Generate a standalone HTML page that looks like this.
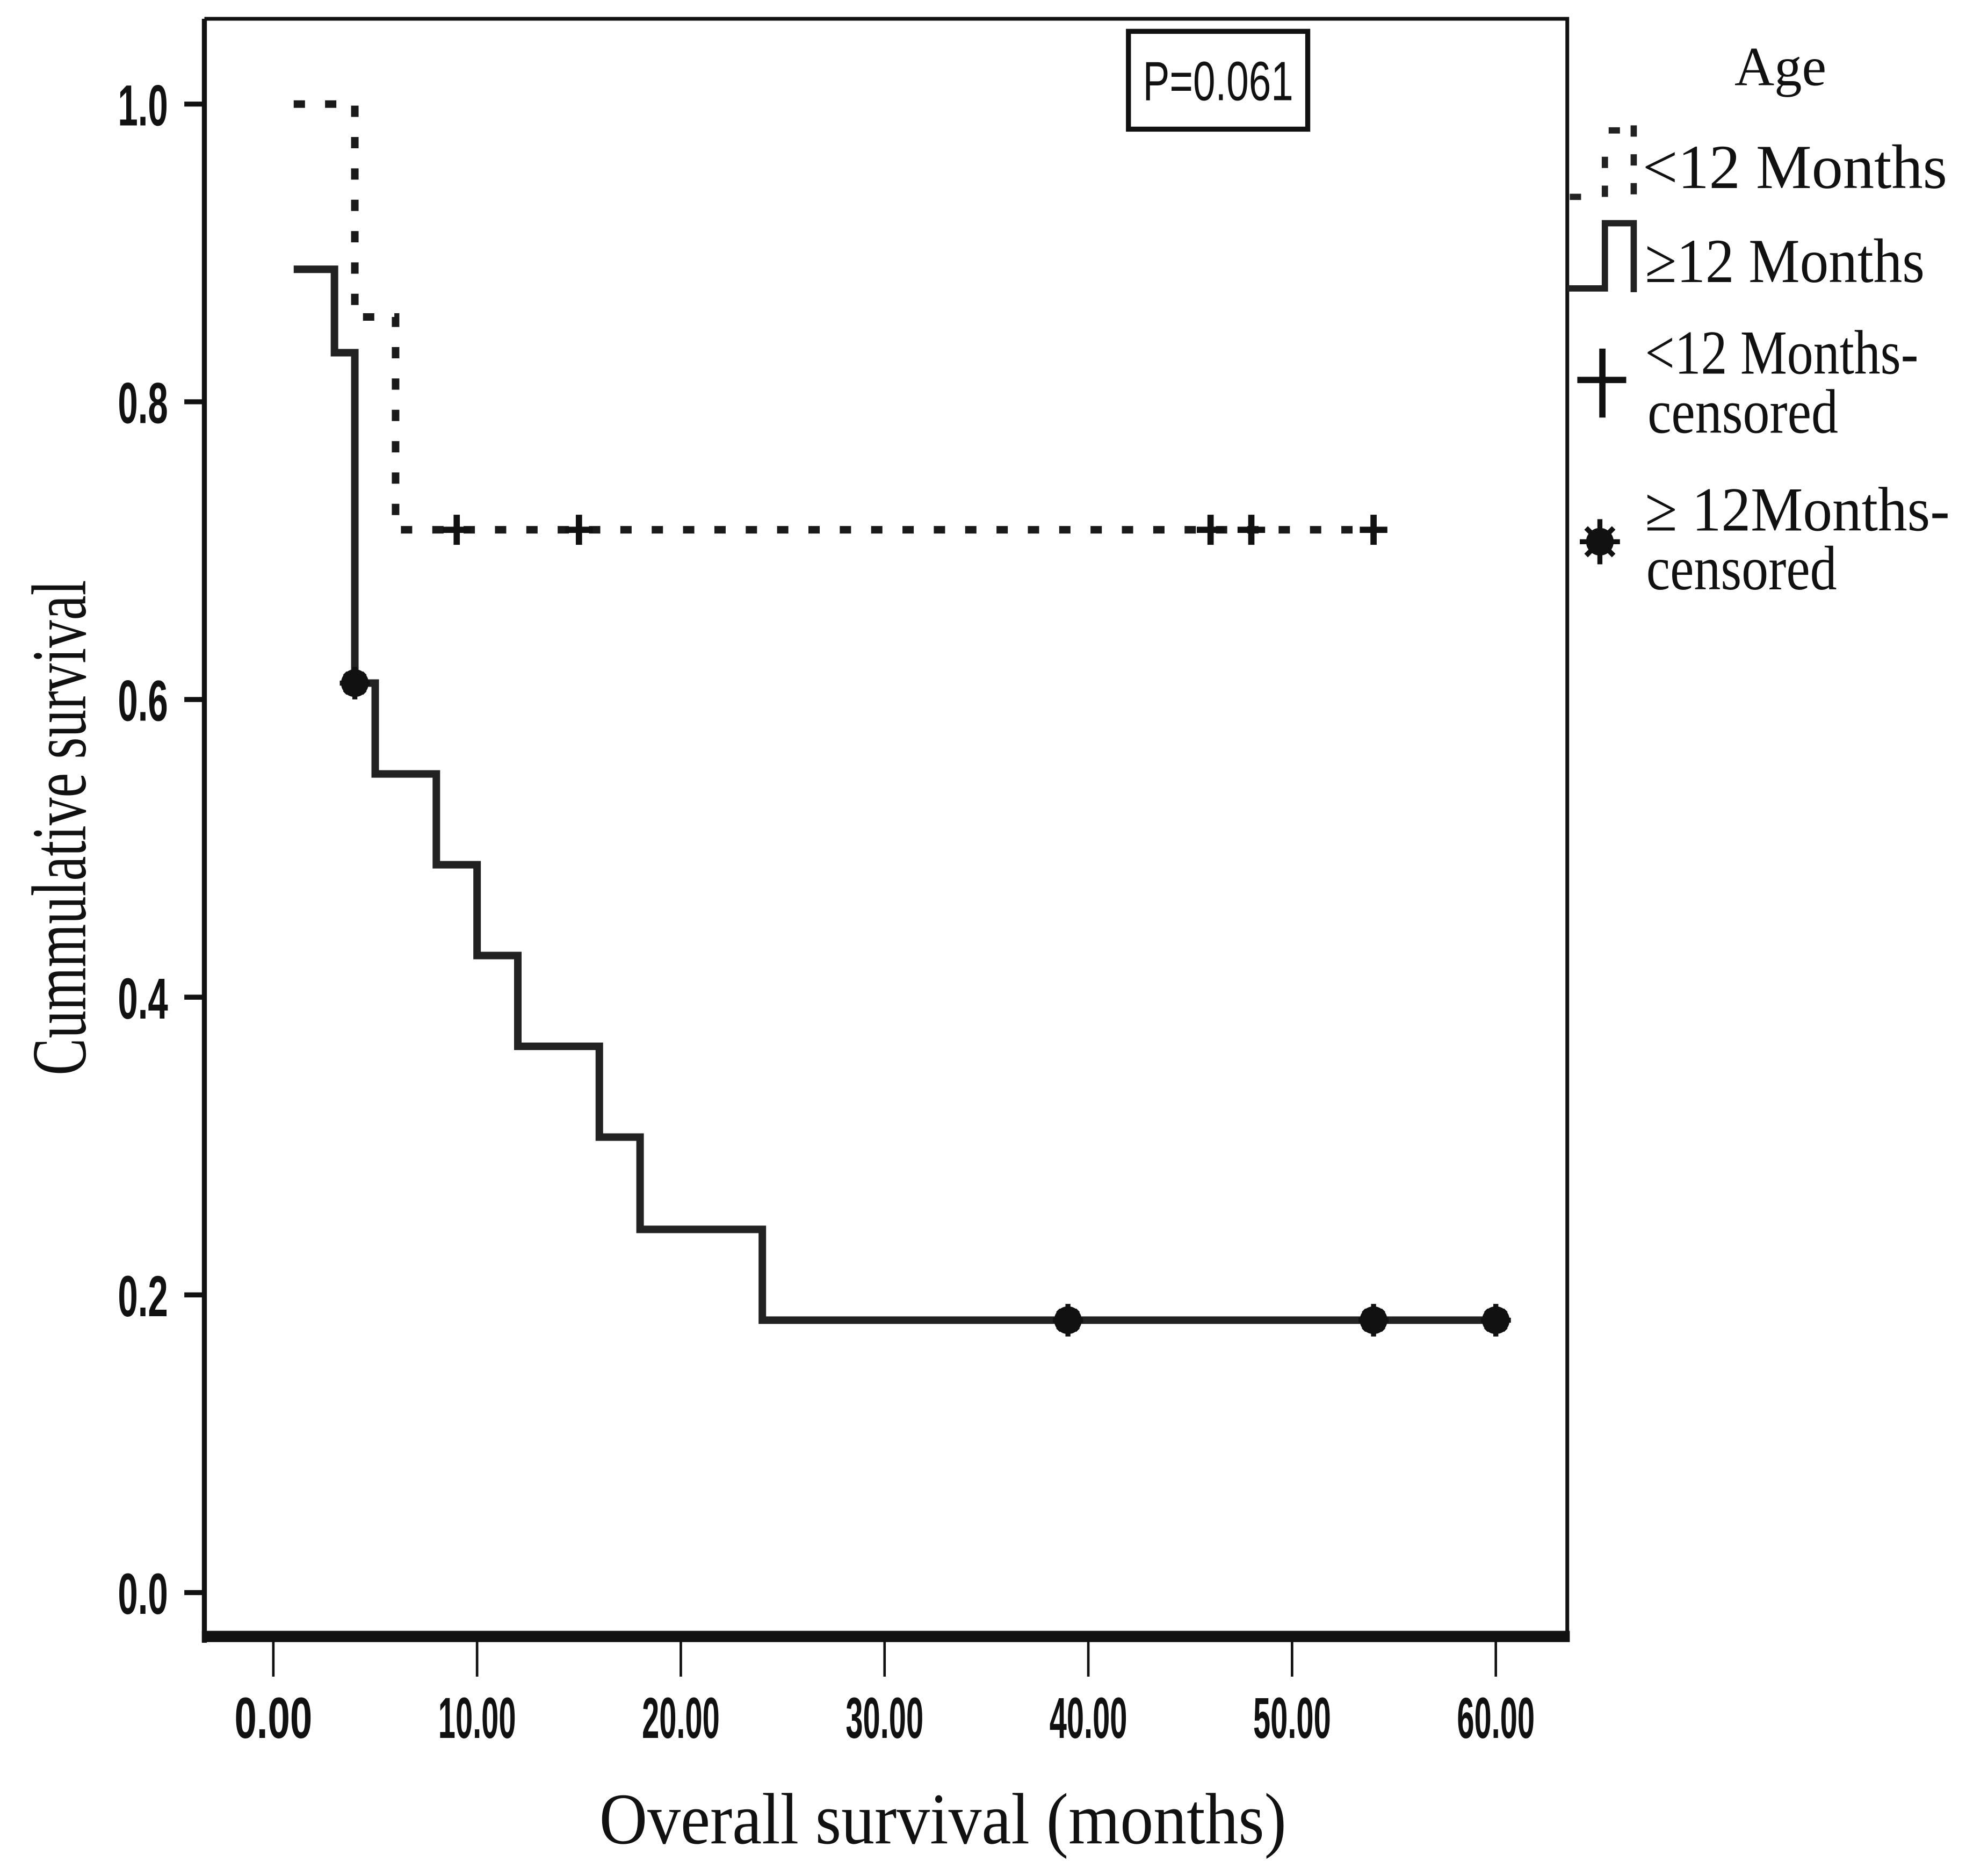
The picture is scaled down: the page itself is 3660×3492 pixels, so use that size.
<!DOCTYPE html>
<html><head><meta charset="utf-8"><style>
html,body{margin:0;padding:0;background:#fff;}
svg{display:block;}
</style></head><body>
<svg width="3660" height="3492" viewBox="0 0 1568 1496" preserveAspectRatio="none" xmlns="http://www.w3.org/2000/svg">
<rect width="1568" height="1496" fill="#fff"/>
<g id="axes"></g>
<g id="series"></g>
<rect x="900" y="25" width="143" height="78" fill="none" stroke="#111" stroke-width="4"/>
<text x="971.5" y="80" text-anchor="middle" font-family="Liberation Sans, sans-serif" font-size="44" textLength="120" lengthAdjust="spacingAndGlyphs" fill="#111">P=0.061</text>
<text transform="translate(68,660) rotate(-90)" text-anchor="middle" font-family="Liberation Serif, serif" font-size="62" textLength="395" lengthAdjust="spacingAndGlyphs" fill="#111">Cummulative survival</text>
<text x="752" y="1470" text-anchor="middle" font-family="Liberation Serif, serif" font-size="58" textLength="548" lengthAdjust="spacingAndGlyphs" fill="#111">Overall survival (months)</text>
<g font-family="Liberation Serif, serif" fill="#111">
<text x="1420" y="68" text-anchor="middle" font-size="44">Age</text>
<path d="M1252 157 H1262 M1280 157 V118 M1283 104 H1295 M1303 100 V157" fill="none" stroke="#222" stroke-width="5" stroke-dasharray="9,14"/>
<text x="1310" y="150" font-size="50" textLength="243" lengthAdjust="spacingAndGlyphs">&lt;12 Months</text>
<path d="M1250 230 H1280 V178 H1303 V233" fill="none" stroke="#222" stroke-width="5"/>
<text x="1312" y="225" font-size="50" textLength="223" lengthAdjust="spacingAndGlyphs">≥12 Months</text>
<path d="M1258 303 H1297 M1278 278 V333" stroke="#111" stroke-width="5"/>
<text x="1312" y="298" font-size="50" textLength="218" lengthAdjust="spacingAndGlyphs">&lt;12 Months-</text>
<text x="1314" y="345" font-size="50" textLength="152" lengthAdjust="spacingAndGlyphs">censored</text>
<g transform="translate(1276,432)" stroke="#111" stroke-width="4">
<path d="M-16 0 H16 M0 -18 V18 M-11 -11 L11 11 M-11 11 L11 -11"/><circle r="9" fill="#111"/></g>
<text x="1312" y="423" font-size="50" textLength="243" lengthAdjust="spacingAndGlyphs">≥ 12Months-</text>
<text x="1313" y="470" font-size="50" textLength="152" lengthAdjust="spacingAndGlyphs">censored</text>
</g>
</svg>
<script>
const xTicks = [0, 10, 20, 30, 40, 50, 60];
const xTickLabels = ["0.00","10.00","20.00","30.00","40.00","50.00","60.00"];
const yTicks = [0, 0.2, 0.4, 0.6, 0.8, 1.0];
const yTickLabels = ["0.0","0.2","0.4","0.6","0.8","1.0"];
const lt12Times = [1, 4, 6, 54];
const lt12Surv = [1.0, 0.857, 0.714, 0.714];
const lt12CensorTimes = [9, 15, 46, 48, 54];
const ge12Times = [1, 3, 4, 5, 8, 10, 12, 16, 18, 24, 60];
const ge12Surv = [0.889, 0.833, 0.611, 0.55, 0.489, 0.428, 0.367, 0.306, 0.244, 0.183, 0.183];
const ge12CensorTimes = [4, 39, 54, 60];
const ge12CensorSurv = [0.611, 0.183, 0.183, 0.183];

const NS = "http://www.w3.org/2000/svg";
function X(v){ return 218 + v * (1193 - 218) / 60; }
function Y(v){ return 1270 - v * (1270 - 83); }
function mk(tag, attrs, parent){ const e = document.createElementNS(NS, tag); for (const k in attrs) e.setAttribute(k, attrs[k]); parent.appendChild(e); return e; }

const axes = document.getElementById('axes');
const series = document.getElementById('series');
let el;
el = mk('path', {d:'M163 15 H1250 V1305', fill:'none', stroke:'#111', 'stroke-width':3}, axes);


el = mk('line', {x1:163, y1:15, x2:163, y2:1310, stroke:'#111', 'stroke-width':4}, axes);


el = mk('line', {x1:161, y1:1305, x2:1252, y2:1305, stroke:'#111', 'stroke-width':9}, axes);



xTicks.forEach((t, i) => {
  let tk = mk('line', {x1:X(t), y1:1305, x2:X(t), y2:1337, stroke:'#111', 'stroke-width':2}, axes);
  
  
  let tl = mk('text', {x:X(t), y:1386, 'text-anchor':'middle', 'font-family':'Liberation Sans, sans-serif', 'font-weight':'bold', 'font-size':46, textLength:62, lengthAdjust:'spacingAndGlyphs', fill:'#111'}, axes);
  tl.textContent = xTickLabels[i];
  
  
});
yTicks.forEach((t, i) => {
  let tk = mk('line', {x1:147, y1:Y(t), x2:163, y2:Y(t), stroke:'#111', 'stroke-width':4}, axes);
  
  
  let tl = mk('text', {x:134, y:Y(t)+17, 'text-anchor':'end', 'font-family':'Liberation Sans, sans-serif', 'font-weight':'bold', 'font-size':46, textLength:40, lengthAdjust:'spacingAndGlyphs', fill:'#111'}, axes);
  tl.textContent = yTickLabels[i];
  
  
});

function stepPath(ts, ss){
  let d = 'M' + X(ts[0]) + ' ' + Y(ss[0]);
  for (let i = 1; i < ts.length; i++){ d += ' H' + X(ts[i]) + ' V' + Y(ss[i]); }
  return d;
}
el = mk('path', {d:stepPath(lt12Times, lt12Surv), fill:'none', stroke:'#1a1a1a', 'stroke-width':6, 'stroke-dasharray':'9,16'}, series);


el = mk('path', {d:stepPath(ge12Times, ge12Surv), fill:'none', stroke:'#222', 'stroke-width':6}, series);



lt12CensorTimes.forEach(t => {
  const cx = X(t), cy = Y(0.714);
  let c = mk('path', {d:'M'+(cx-11)+' '+cy+' H'+(cx+11)+' M'+cx+' '+(cy-12)+' V'+(cy+12), stroke:'#111', 'stroke-width':5}, series);
  
  
});
ge12CensorTimes.forEach((t, i) => {
  const cx = X(t), cy = Y(ge12CensorSurv[i]);
  let g = mk('g', {transform:'translate('+cx+','+cy+')', stroke:'#111', 'stroke-width':4}, series);
  
  
  mk('path', {d:'M-12 0 H12 M0 -13 V13 M-8 -8 L8 8 M-8 8 L8 -8'}, g);
  mk('circle', {r:9, fill:'#111'}, g);
});
</script>
</body></html>
